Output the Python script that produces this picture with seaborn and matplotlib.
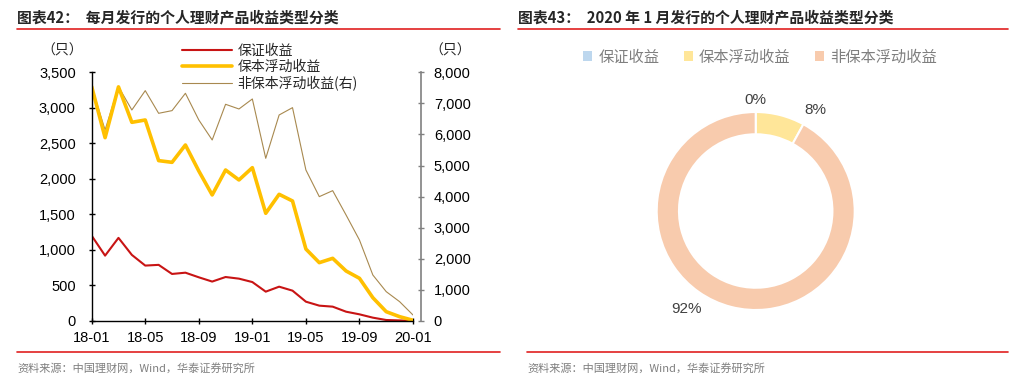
import numpy as np
import pandas as pd
import matplotlib.pyplot as plt
import seaborn as sns
from matplotlib.patches import Patch

# ---- data ----
months = ['18-01', '18-02', '18-03', '18-04', '18-05', '18-06', '18-07', '18-08', '18-09',
          '18-10', '18-11', '18-12', '19-01', '19-02', '19-03', '19-04', '19-05', '19-06',
          '19-07', '19-08', '19-09', '19-10', '19-11', '19-12', '20-01']
guaranteed = [1200, 920, 1170, 930, 780, 790, 662, 680, 615, 555, 619, 596, 548,
              413, 483, 427, 272, 216, 202, 131, 94, 47, 14, 8, 2]
principal_float = [3298, 2580, 3295, 2796, 2829, 2257, 2233, 2477, 2111, 1774, 2125, 1985, 2158,
                   1516, 1783, 1689, 1013, 821, 882, 704, 601, 328, 131, 61, 10]
non_principal = [7539, 6145, 7539, 6788, 7410, 6681, 6767, 7325, 6467, 5823, 6971, 6820, 7142,
                 5233, 6627, 6863, 4858, 4000, 4193, 3410, 2606, 1480, 944, 622, 193]
xtick_labels = ['18-01', '18-05', '18-09', '19-01', '19-05', '19-09', '20-01']

series_names = ['保证收益', '保本浮动收益', '非保本浮动收益']
jan2020_share = [0, 8, 92]

sns.set_theme(style='white')
plt.rcParams['font.family'] = ['Liberation Sans', 'Noto Sans CJK SC', 'DejaVu Sans']
cjk = ['Noto Sans CJK SC', 'DejaVu Sans']

fig = plt.figure(figsize=(10.26, 3.91), dpi=100)

# ---- headers / footers ----
fig.text(17 / 1026, 1 - 17 / 391, '图表42：  每月发行的个人理财产品收益类型分类', family=cjk,
         fontsize=10.7, fontweight='bold', va='center', ha='left')
fig.text(518 / 1026, 1 - 17 / 391, '图表43：  2020 年 1 月发行的个人理财产品收益类型分类', family=cjk,
         fontsize=10.7, fontweight='bold', va='center', ha='left')
for x0, x1 in [(17, 500), (518, 1008)]:
    fig.add_artist(plt.Line2D([x0 / 1026, x1 / 1026], [1 - 29 / 391] * 2, color='#e02020', lw=1.2))
for x0, x1 in [(17, 500), (527, 1008)]:
    fig.add_artist(plt.Line2D([x0 / 1026, x1 / 1026], [1 - 352 / 391] * 2, color='#e02020', lw=1.2))
for x0 in [17, 527]:
    fig.text(x0 / 1026, 1 - 368 / 391, '资料来源：中国理财网，Wind，华泰证券研究所', family=cjk,
             fontsize=8, color='#7f7f7f', va='center', ha='left')

# ---- left: monthly lines ----
x = np.arange(len(months))
df = pd.DataFrame({'x': x, 'g': guaranteed, 'p': principal_float, 'n': non_principal})

ax = fig.add_axes([91.7 / 1026, 70 / 391, 321.3 / 1026, 248.7 / 391])
ax2 = ax.twinx()

sns.lineplot(data=df, x='x', y='n', ax=ax2, color='#a8894f', linewidth=0.8, label=series_names[2] + '(右)',
             legend=False)
sns.lineplot(data=df, x='x', y='g', ax=ax, color='#c81414', linewidth=1.5, label=series_names[0], legend=False)
sns.lineplot(data=df, x='x', y='p', ax=ax, color='#ffc000', linewidth=2.6, label=series_names[1], legend=False)

ax.set_zorder(ax2.get_zorder() + 1)
ax.patch.set_visible(False)

ax.set_xlim(0, len(months) - 1)
ax.set_ylim(0, 3500)
ax.set_yticks(range(0, 3501, 500))
ax.yaxis.set_major_formatter(plt.FuncFormatter(lambda v, p: f'{int(v):,}'))
ax.set_xticks([months.index(m) for m in xtick_labels])
ax.set_xticklabels(xtick_labels)
ax.set_xlabel('')
ax.set_ylabel('')
for s in ['top', 'right']:
    ax.spines[s].set_visible(False)
for s in ['left', 'bottom']:
    ax.spines[s].set_color('black')
    ax.spines[s].set_linewidth(1)
ax.tick_params(axis='y', direction='inout', length=5, width=1, pad=9, labelsize=10.5, colors='black', left=True)
ax.tick_params(axis='x', direction='inout', length=5, width=1, pad=5, labelsize=10.5, colors='black', bottom=True)

ax2.set_ylim(0, 8000)
ax2.set_yticks(range(0, 8001, 1000))
ax2.yaxis.set_major_formatter(plt.FuncFormatter(lambda v, p: f'{int(v):,}'))
ax2.set_ylabel('')
for s in ['top', 'left', 'bottom']:
    ax2.spines[s].set_visible(False)
ax2.spines['right'].set_position(('outward', 5.5))
ax2.spines['right'].set_color('#808080')
ax2.spines['right'].set_linewidth(1.2)
ax2.tick_params(axis='y', direction='inout', length=5, width=1, pad=7, labelsize=10.5,
                color='#808080', labelcolor='black', right=True)

fig.text(62 / 1026, 1 - 51 / 391, '（只）', family=cjk, fontsize=10, ha='center', va='center')
fig.text(450 / 1026, 1 - 51 / 391, '（只）', family=cjk, fontsize=10, ha='center', va='center')

h1, l1 = ax.get_legend_handles_labels()
h2, l2 = ax2.get_legend_handles_labels()
fig.legend(h1 + h2, l1 + l2, loc='upper left', bbox_to_anchor=(182 / 1026, 1 - 44 / 391),
           frameon=False, handlelength=3.6, handletextpad=0.4, labelspacing=0.15,
           borderpad=0, borderaxespad=0, prop={'family': cjk, 'size': 10})

# ---- right: donut ----
colors = ['#bdd7ee', '#ffe699', '#f8cbad']
axp = fig.add_axes([627 / 1026, 51.3 / 391, 257.4 / 1026, 257.4 / 391])
wedges, _ = axp.pie(jan2020_share, colors=colors, startangle=90, counterclock=False, radius=1,
                    wedgeprops=dict(width=0.225, edgecolor='white', linewidth=1.5))
axp.set_xlim(-1.3, 1.3)
axp.set_ylim(-1.3, 1.3)
axp.set_aspect('equal')
axp.axis('off')

label_pos = [(0.0, 1.12), (0.6, 1.02), (-0.7, -0.99)]
for v, (lx, ly) in zip(jan2020_share, label_pos):
    axp.text(lx, ly, f'{v}%', ha='center', va='center', fontsize=11, color='#404040')

handles = [Patch(facecolor=c, edgecolor='none') for c in colors]
leg = fig.legend(handles, series_names, loc='center', bbox_to_anchor=(760 / 1026, 1 - 57 / 391), ncol=3,
                 frameon=False, handlelength=0.6, handleheight=0.6, handletextpad=0.4, columnspacing=1.6,
                 prop={'family': cjk, 'size': 11})
for t in leg.get_texts():
    t.set_color('#7f7f7f')

fig.savefig('out.png', dpi=100)
